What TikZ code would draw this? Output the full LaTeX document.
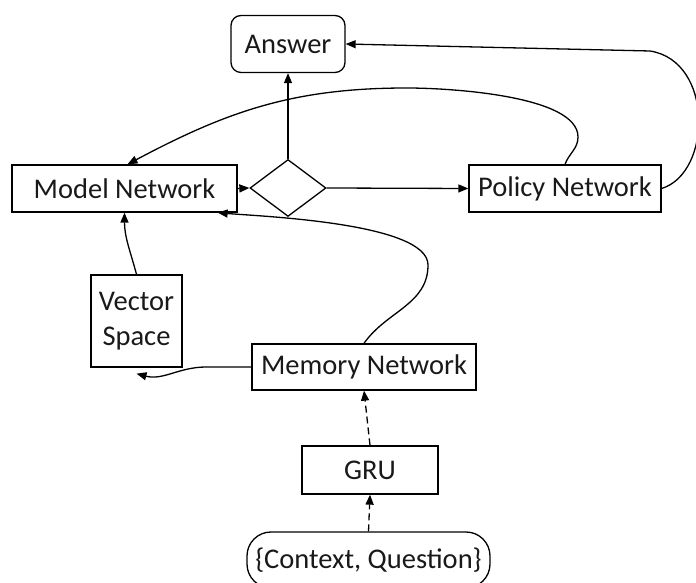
\documentclass[tikz,border=0pt]{standalone}
\usepackage{fontspec}
\setmainfont{Carlito}
\usetikzlibrary{shapes,arrows.meta}

\begin{document}
\begin{tikzpicture}[x=1pt, y=1pt, line width=1.3pt, >={Triangle[length=10pt,width=8pt]}]
    \tikzstyle{every node}=[align=center, inner sep=0pt, text=black!90,
				% same text size everywhere
				font=\fontsize{28.5}{35}\selectfont
					]
    \tikzstyle{netbox} = [draw, rectangle, minimum height=47pt]
    \tikzstyle{endbox} = [draw, rectangle, rounded corners=10pt]
    \tikzstyle{dashedge} = [->, dash pattern=on 7pt off 4pt]
    \useasboundingbox (0,0) rectangle (696,583);

    \node[endbox, minimum width=114pt, minimum height=57pt] (ans) at (288,539) {Answer};
    \node[netbox, minimum width=225pt] (mod) at (124.5,394.5) {Model Network};
    \node[draw, diamond, minimum width=76pt, minimum height=57pt] (dia) at (288,395) {};
    \node[netbox, minimum width=192pt] (pol) at (565,394.5) {Policy Network};
    \node[netbox, minimum width=91pt, minimum height=92pt] (vec) at (136.5,262) {Vector\\Space};
    \node[netbox, minimum width=224pt, minimum height=46pt] (mem) at (364,216) {Memory Network};
    \node[netbox, minimum width=136pt, minimum height=48pt] (gru) at (370,113) {GRU};
    \node[endbox, rounded corners=24pt, minimum width=243pt, minimum height=56pt] (ctx) at (368.5,23) {\{Context, Question\}};

    % decision
    \draw[->] (dia.north) -- (ans.south);
    \draw[->] (dia.east) -- (pol.west);
    \draw[->] (mod.east) -- (dia.west);
    % feedback loops
    \draw[->] (pol.north) to[out=70,in=-90] (578,446) to[out=90,in=0,looseness=0.6] (407,495) to[out=180,in=28] ([xshift=3pt]mod.north);
    \draw[->] (pol.east) .. controls (712,410) and (714,522) .. (650,532) -- (ans.east);
    \draw[->] (mem.north) to[out=55,in=-90] (428,318) to[out=90,in=-5,looseness=0.5] ([xshift=-20pt]mod.south east);
    \draw[->] (vec.north) to[out=105,in=-90] (mod.south);
    \draw[->] (mem.west) -- ++(-45,0) to[out=180,in=-15] ([yshift=-6pt]vec.south);
    % encoder
    \draw[dashedge] (gru.north) -- (mem.south);
    \draw[dashedge] (ctx.north) -- (gru.south);
\end{tikzpicture}
\end{document}
